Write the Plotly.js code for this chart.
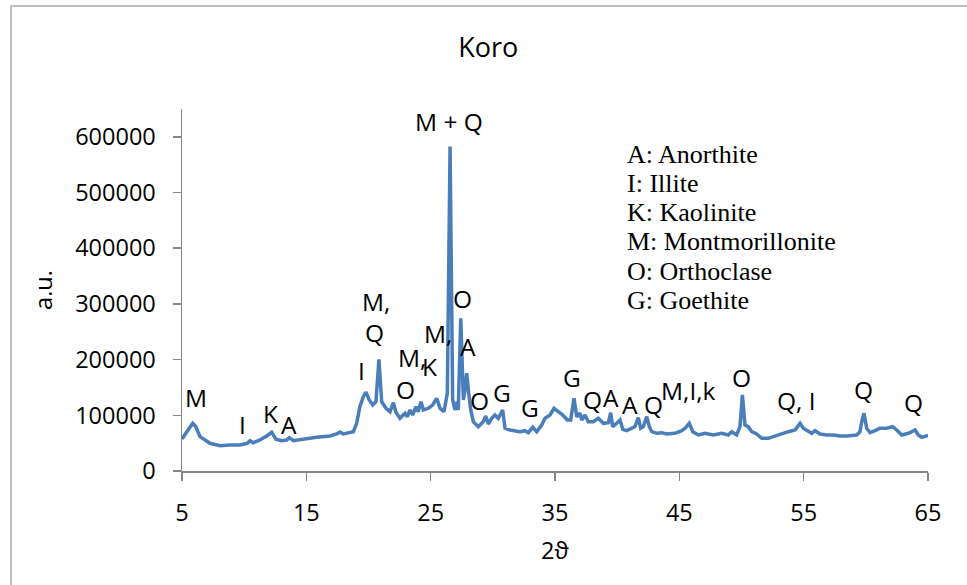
<!DOCTYPE html>
<html>
<head>
<meta charset="utf-8">
<script src="https://cdn.plot.ly/plotly-3.0.1.min.js"></script>
<style>
  html, body { margin: 0; padding: 0; background: #fff; }
  #wrap { position: relative; width: 967px; height: 585px; overflow: hidden; }
  #chart { position: absolute; left: 0; top: 0; width: 967px; height: 585px; }
  #frame { position: absolute; left: 10px; top: 5px; width: 980px; height: 600px;
           border-left: 2px solid #c0c0c0; border-top: 2px solid #c0c0c0; pointer-events: none; }
</style>
</head>
<body>
<div id="wrap">
  <div id="chart"></div>
  <div id="frame"></div>
</div>
<script>
// 2θ values (degrees)
const twoTheta = [
  5.0, 5.4, 5.86, 6.1, 6.45, 7.25, 8.06, 8.86, 9.66, 10.25,
  10.47, 10.73, 11.27, 11.81, 12.21, 12.56, 13.02, 13.42, 13.63, 13.95,
  14.76, 14.89, 15.83, 16.9, 17.44, 17.71, 17.97, 18.78, 19.05, 19.3,
  19.58, 19.8, 20.06, 20.34, 20.6, 20.84, 21.06, 21.41, 21.73, 22.0,
  22.21, 22.53, 22.94, 23.12, 23.34, 23.55, 23.82, 24.0, 24.22, 24.41,
  24.81, 25.16, 25.49, 25.75, 26.07, 26.34, 26.56, 26.77, 26.96, 27.14,
  27.22, 27.42, 27.63, 27.76, 27.9, 28.06, 28.22, 28.43, 28.83, 29.23,
  29.43, 29.64, 29.91, 30.17, 30.44, 30.79, 30.98, 31.38, 31.78, 32.19,
  32.59, 32.85, 33.21, 33.53, 33.93, 34.2, 34.6, 34.92, 35.27, 35.62,
  35.99, 36.26, 36.53, 36.75, 37.01, 37.15, 37.41, 37.68, 38.08, 38.48,
  38.89, 39.29, 39.48, 39.64, 39.96, 40.23, 40.45, 40.77, 41.17, 41.43,
  41.7, 41.89, 42.1, 42.38, 42.59, 42.78, 43.18, 43.58, 43.98, 44.65,
  45.19, 45.46, 45.8, 46.08, 46.53, 47.07, 47.73, 48.41, 48.94, 49.21,
  49.61, 49.88, 50.07, 50.28, 50.55, 50.82, 51.22, 51.63, 52.16, 52.7,
  53.23, 53.77, 54.3, 54.71, 54.97, 55.24, 55.65, 55.91, 56.32, 56.85,
  57.38, 57.92, 58.46, 59.27, 59.53, 59.67, 59.85, 60.07, 60.34, 60.74,
  61.14, 61.68, 62.16, 62.48, 62.89, 63.42, 63.96, 64.22, 64.49, 65.0
];
// intensity values (a.u.)
const intensity = [
  57500, 70000, 85700, 80000, 61600, 49700, 45400, 46700, 46700, 49700,
  54400, 50800, 55700, 62900, 69500, 56900, 54400, 55700, 59800, 54400,
  56900, 58700, 60500, 62900, 66500, 70000, 66500, 70600, 85600, 115000,
  133400, 141500, 127500, 118500, 124500, 200600, 124500, 112600, 106500, 122700,
  105400, 94600, 103600, 97500, 109600, 100600, 115500, 106500, 124500, 109600,
  112600, 118500, 130500, 112600, 106500, 139500, 582500, 127500, 109600, 124500,
  109600, 274200, 127500, 145500, 175500, 139500, 109600, 88500, 79600, 88500,
  98800, 84400, 94600, 100600, 94600, 109600, 76700, 73600, 72400, 70600,
  72400, 68800, 78500, 70600, 82600, 94600, 100600, 112600, 106500, 100600,
  91600, 91600, 130500, 97500, 103600, 91600, 100600, 88500, 88500, 94600,
  85600, 86700, 104700, 79600, 85600, 91600, 74900, 72400, 76700, 79600,
  95700, 76700, 79600, 97500, 79600, 70600, 67700, 68800, 66400, 67700,
  72400, 76700, 85600, 70600, 64700, 67700, 64700, 67700, 64700, 70600,
  64700, 79600, 136500, 82600, 79600, 70600, 66400, 58700, 58700, 62800,
  67700, 70600, 73600, 85600, 76700, 73600, 67700, 72400, 66400, 64700,
  64700, 62800, 62800, 64700, 70600, 88500, 103600, 76700, 68800, 72400,
  76700, 76700, 79600, 73600, 64700, 67700, 73600, 64700, 60500, 64100
];
// peak labels: text, 2θ position, intensity position
const peakText = ["M", "I", "K", "A", "I", "M,", "Q", "O", "M,", "K", "M,", "M + Q",
  "O", "A", "O", "G", "G", "G", "Q", "A", "A", "Q", "M,I,k", "O", "Q, I", "Q", "Q"];
const peakX = [6.13, 9.9, 12.08, 13.6, 19.4, 20.6, 20.52, 22.94, 23.5, 24.9, 25.55, 26.48,
  27.52, 28.0, 28.89, 30.74, 32.99, 36.37, 37.98, 39.5, 41.03, 42.96, 45.7, 49.96, 54.46, 59.85, 63.87];
const peakY = [131100, 84400, 102400, 84400, 179600, 303500, 247800, 145500, 203000, 187300, 247300, 626700,
  308900, 222700, 125700, 140100, 114900, 167000, 127500, 131100, 120300, 120300, 143700, 167000, 125700, 145500, 123900];
// legend of phases
const legendLines = ["A: Anorthite", "I: Illite", "K: Kaolinite", "M: Montmorillonite", "O: Orthoclase", "G: Goethite"];
const legendY = [567500, 515400, 463300, 411200, 359100, 305300];
const legendX = 40.6;

const xTicks = [5, 15, 25, 35, 45, 55, 65];
const yTicks = [0, 100000, 200000, 300000, 400000, 500000, 600000];

const annotations = [];
for (let i = 0; i < peakText.length; i++) {
  annotations.push({
    x: peakX[i], y: peakY[i], xref: 'x', yref: 'y', text: peakText[i],
    showarrow: false, xanchor: 'center', yanchor: 'middle',
    font: { family: 'Open Sans, sans-serif', size: 24.5, color: '#000' }
  });
}
for (let i = 0; i < legendLines.length; i++) {
  annotations.push({
    x: legendX, y: legendY[i], xref: 'x', yref: 'y', text: legendLines[i],
    showarrow: false, xanchor: 'left', yanchor: 'middle',
    font: { family: 'Liberation Serif, serif', size: 26, color: '#000' }
  });
}

const trace = {
  x: twoTheta, y: intensity, type: 'scatter', mode: 'lines',
  line: { color: '#4a7ebb', width: 3.5, shape: 'linear' },
  hoverinfo: 'skip'
};

const axisFont = { family: 'Open Sans, sans-serif', size: 23.5, color: '#000' };

const layout = {
  width: 967, height: 585,
  margin: { l: 182, r: 39, t: 109, b: 114, pad: 0 },
  paper_bgcolor: '#fff', plot_bgcolor: '#fff',
  showlegend: false,
  title: { text: 'Koro', x: 0.505, xanchor: 'center', y: 0.918, yanchor: 'middle',
           font: { family: 'Open Sans, sans-serif', size: 27, color: '#000' } },
  xaxis: {
    range: [5, 65], tickvals: xTicks, ticktext: xTicks.map(String),
    showgrid: false, zeroline: false, showline: true, linecolor: '#868686', linewidth: 1.5,
    ticks: 'outside', ticklen: 8, tickwidth: 1.5, tickcolor: '#868686',
    ticklabelstandoff: 12,
    tickfont: axisFont,
    title: { text: '2ϑ', font: axisFont, standoff: 16 }
  },
  yaxis: {
    range: [0, 650000], tickvals: yTicks, ticktext: yTicks.map(String),
    showgrid: false, zeroline: false, showline: true, linecolor: '#868686', linewidth: 1.5,
    ticks: 'outside', ticklen: 8, tickwidth: 1.5, tickcolor: '#868686',
    ticklabelstandoff: 12,
    tickfont: axisFont,
    title: { text: 'a.u.', font: axisFont, standoff: 16 }
  },
  annotations: annotations
};

Plotly.newPlot('chart', [trace], layout, { staticPlot: true, displayModeBar: false });
</script>
</body>
</html>
